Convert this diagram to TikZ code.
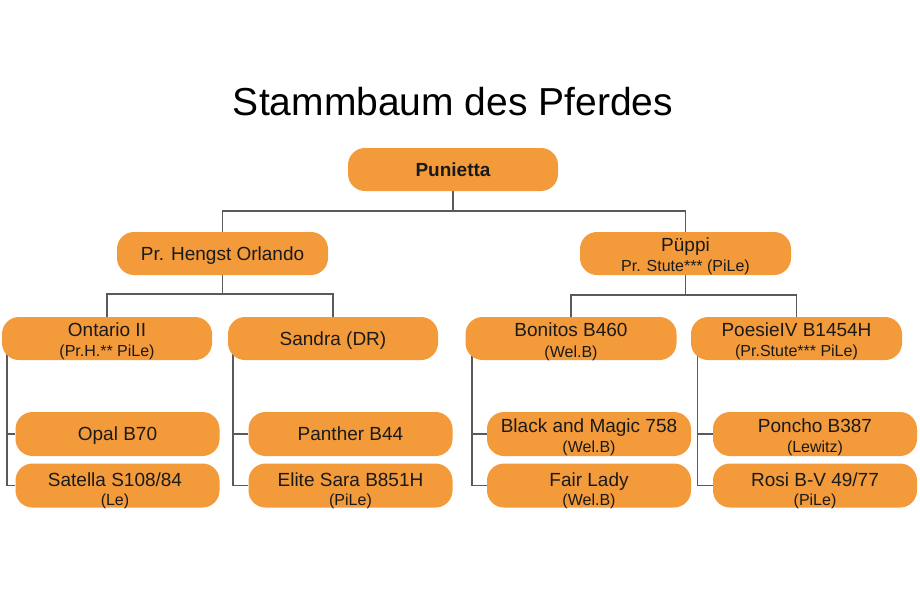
\documentclass[tikz,border=0pt]{standalone}
\usepackage{fontspec}
\setmainfont{Liberation Sans}
\usetikzlibrary{backgrounds}
\definecolor{horse}{HTML}{F39A3B}
\definecolor{conn}{HTML}{5A5A5A}
\definecolor{txt}{HTML}{1A1A1A}
\tikzset{
 box/.style={fill=horse, rounded corners=17pt, minimum width=211pt, minimum height=43pt, inner sep=0pt, draw=none},
 kid/.style={box, minimum width=204pt, minimum height=44pt},
 maintxt/.style={font=\fontsize{19}{19}\selectfont, text=txt, inner sep=0pt, text height=13.6pt, text depth=0pt},
 subtxt/.style={font=\fontsize{16}{16}\selectfont, text=txt, inner sep=0pt, text height=11.5pt, text depth=0pt},
 titletxt/.style={font=\fontsize{39}{39}\selectfont, text=black, inner sep=0pt, text height=28pt, text depth=0pt},
 link/.style={draw=conn, line width=1.5pt},
}
\begin{document}
\begin{tikzpicture}[x=1pt,y=-1pt]
\useasboundingbox (0,0) rectangle (920,595);
% title
\node[titletxt] (title) at (453,101) {Stammbaum des Pferdes};
% boxes
\node[box, minimum width=210pt] (pun) at (453,169.5) {};
\node[box] (hen) at (222.5,253.5) {};
\node[box] (pup) at (685.5,253.5) {};
\node[box, minimum width=210pt] (ont) at (107,338.5) {};
\node[box, minimum width=210pt] (san) at (333,338.5) {};
\node[box] (bon) at (571,338.5) {};
\node[box] (poe) at (796.5,338.5) {};
\node[kid] (opal) at (117.5,434) {};
\node[kid] (sat) at (117.5,485.5) {};
\node[kid] (pan) at (350.5,434) {};
\node[kid] (eli) at (350.5,485.5) {};
\node[kid] (bla) at (589,434) {};
\node[kid] (fai) at (589,485.5) {};
\node[kid] (pon) at (815,434) {};
\node[kid] (ros) at (815,485.5) {};
% texts
\node[maintxt, font=\fontsize{19}{19}\selectfont\bfseries] (punT) at (453,170) {Punietta};
\node[maintxt] (henT) at (222.5,254) {Pr. Hengst Orlando};
\node[maintxt] (pupT) at (685.5,245) {Püppi};
\node[subtxt] (pupS) at (685.5,266) {Pr. Stute*** (PiLe)};
\node[maintxt] (ontT) at (107,330) {Ontario II};
\node[subtxt] (ontS) at (107,351) {(Pr.H.** PiLe)};
\node[maintxt] (sanT) at (333,339) {Sandra (DR)};
\node[maintxt] (bonT) at (571,330) {Bonitos B460};
\node[subtxt] (bonS) at (571,352) {(Wel.B)};
\node[maintxt] (poeT) at (796.5,330) {PoesieIV B1454H};
\node[subtxt] (poeS) at (796.5,351) {(Pr.Stute*** PiLe)};
\node[maintxt] (opalT) at (117.5,434) {Opal B70};
\node[maintxt] (satT) at (115,480) {Satella S108/84};
\node[subtxt] (satS) at (115,500) {(Le)};
\node[maintxt] (panT) at (350.5,434) {Panther B44};
\node[maintxt] (eliT) at (350.5,480) {Elite Sara B851H};
\node[subtxt] (eliS) at (350.5,500) {(PiLe)};
\node[maintxt] (blaT) at (589,426) {Black and Magic 758};
\node[subtxt] (blaS) at (589,447) {(Wel.B)};
\node[maintxt] (faiT) at (589,480) {Fair Lady};
\node[subtxt] (faiS) at (589,500) {(Wel.B)};
\node[maintxt] (ponT) at (815,426) {Poncho B387};
\node[subtxt] (ponS) at (815,447) {(Lewitz)};
\node[maintxt] (rosT) at (815,480) {Rosi B-V 49/77};
\node[subtxt] (rosS) at (815,500) {(PiLe)};
% connectors
\begin{pgfonlayer}{background}
\fill[white] (0,0) rectangle (920,595);
\draw[link] (pun.center) -- ++(0,41.5) -| (hen.north);
\draw[link] (pun.center) -- ++(0,41.5) -| (pup.north);
\draw[link] (hen.center) -- ++(0,40.5) -| (ont.north);
\draw[link] (hen.center) -- ++(0,40.5) -| (san.north);
\draw[link] (pup.center) -- ++(0,41.5) -| (bon.north);
\draw[link] (pup.center) -- ++(0,41.5) -| (poe.north);
\draw[link] ([xshift=5pt]ont.west) |- (opal.west);
\draw[link] ([xshift=5pt]ont.west) |- (sat.west);
\draw[link] ([xshift=5pt]san.west) |- (pan.west);
\draw[link] ([xshift=5pt]san.west) |- (eli.west);
\draw[link] ([xshift=6.5pt]bon.west) |- (bla.west);
\draw[link] ([xshift=6.5pt]bon.west) |- (fai.west);
\draw[link] ([xshift=6.5pt]poe.west) |- (pon.west);
\draw[link] ([xshift=6.5pt]poe.west) |- (ros.west);
\end{pgfonlayer}
\end{tikzpicture}
\end{document}
